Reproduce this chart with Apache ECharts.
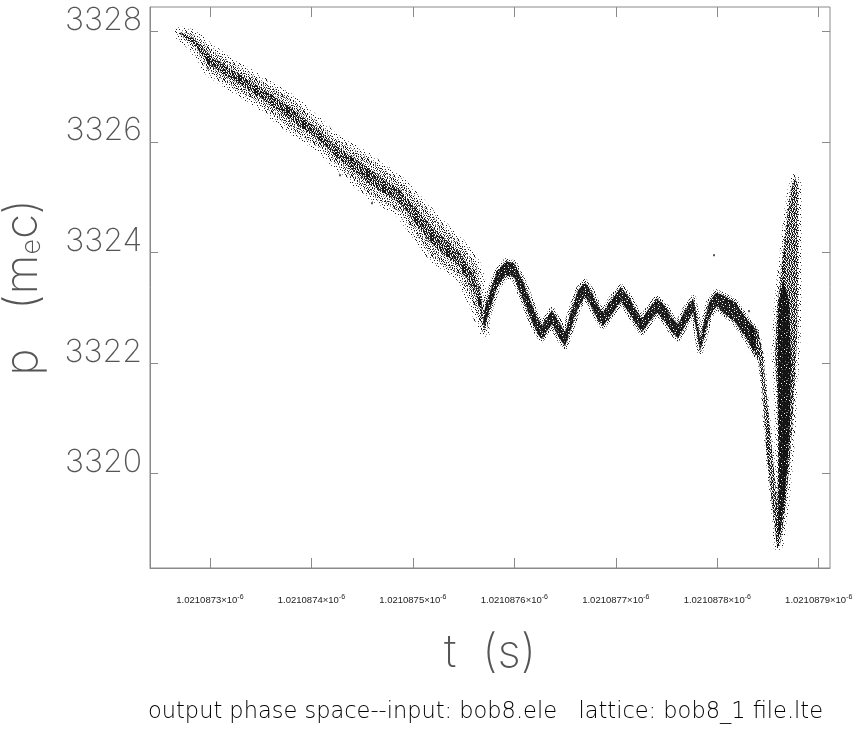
<!DOCTYPE html>
<html>
<head>
<meta charset="utf-8">
<script src="https://cdn.jsdelivr.net/npm/echarts@6/dist/echarts.min.js"></script>
<style>
  html, body { margin: 0; padding: 0; background: #fff; }
  #chart { width: 852px; height: 734px; }
</style>
</head>
<body>
<div id="chart"></div>
<script>
// Times are stored in units of 1e-13 s after 1.021087e-6 s (3 -> 1.0210873e-6 s).
const T_BASE = 10210870;
const tTicks = [3, 4, 5, 6, 7, 8, 9];
const pTicks = [3320, 3322, 3324, 3326, 3328];
const tRange = [2.409, 9.111];
const pRange = [3318.29, 3328.44];

// Head of the bunch: spread-out band, upper and lower edge of p.
const driftT      = [2.704, 2.832, 3.000, 3.168, 3.493, 3.818, 4.084, 4.212, 4.548, 4.873, 5.198, 5.464, 5.612, 5.661, 5.711];
const driftTop    = [3328.000, 3327.946, 3327.693, 3327.476, 3327.114, 3326.752, 3326.318, 3326.083, 3325.721, 3325.288, 3324.655, 3324.166, 3323.823, 3323.533, 3322.650];
const driftBottom = [3327.928, 3327.729, 3327.259, 3327.060, 3326.680, 3326.210, 3325.902, 3325.667, 3325.089, 3324.727, 3323.913, 3323.570, 3323.000, 3322.740, 3322.557];

// Middle of the bunch: narrow oscillating band, centre p and half thickness.
const rippleT    = [5.701, 5.760, 5.829, 5.918, 5.997, 6.075, 6.154, 6.223, 6.273, 6.322,
                    6.371, 6.430, 6.499, 6.558, 6.627, 6.696, 6.765, 6.825, 6.874, 6.962,
                    7.051, 7.140, 7.199, 7.258, 7.337, 7.406, 7.495, 7.554, 7.613, 7.682,
                    7.761, 7.800, 7.830, 7.869, 7.919, 7.988, 8.076, 8.175, 8.293, 8.382];
const rippleP    = [3322.774, 3323.136, 3323.515, 3323.714, 3323.678, 3323.353, 3322.991, 3322.684, 3322.557, 3322.702,
                    3322.828, 3322.629, 3322.430, 3322.774, 3323.154, 3323.335, 3323.136, 3322.901, 3322.792, 3323.027,
                    3323.244, 3323.027, 3322.828, 3322.684, 3322.883, 3323.045, 3322.864, 3322.684, 3322.575, 3322.810,
                    3323.045, 3322.684, 3322.322, 3322.593, 3322.955, 3323.154, 3323.045, 3322.919, 3322.611, 3322.358];
const rippleHalf = [0.163, 0.163, 0.145, 0.127, 0.127, 0.163, 0.163, 0.145, 0.127, 0.127,
                    0.127, 0.145, 0.127, 0.163, 0.163, 0.127, 0.145, 0.127, 0.127, 0.145,
                    0.127, 0.145, 0.127, 0.127, 0.127, 0.127, 0.145, 0.127, 0.127, 0.145,
                    0.127, 0.145, 0.108, 0.145, 0.145, 0.127, 0.163, 0.181, 0.181, 0.217];

// Tail of the bunch: the steep drop into the dip, outline as [t, p].
const dropOutline = [
  [8.323, 3322.738], [8.392, 3322.593], [8.431, 3322.358], [8.461, 3321.960], [8.490, 3321.327],
  [8.530, 3320.604], [8.559, 3320.062], [8.589, 3319.519], [8.609, 3318.977], [8.618, 3318.705],
  [8.589, 3318.669], [8.569, 3318.977], [8.540, 3319.429], [8.510, 3319.971], [8.480, 3320.514],
  [8.461, 3321.056], [8.441, 3321.599], [8.411, 3322.015], [8.362, 3322.195], [8.303, 3322.449]
];
// ...and the wide recovery branch after it.
const riseOutline = [
  [8.589, 3319.338], [8.599, 3320.062], [8.599, 3320.785], [8.589, 3321.508], [8.569, 3322.141],
  [8.589, 3322.955], [8.628, 3323.678], [8.658, 3324.130], [8.688, 3324.673], [8.727, 3325.125],
  [8.766, 3325.360], [8.796, 3325.215], [8.796, 3324.401], [8.796, 3323.316], [8.786, 3322.412],
  [8.757, 3321.508], [8.737, 3320.785], [8.707, 3320.062], [8.678, 3319.519], [8.648, 3319.067],
  [8.618, 3318.705], [8.589, 3318.669], [8.579, 3318.977]
];
// Densest part of the recovery branch.
const riseCore = [
  [8.609, 3323.136], [8.648, 3323.497], [8.707, 3323.136], [8.727, 3322.051], [8.717, 3320.966],
  [8.688, 3320.062], [8.648, 3319.338], [8.618, 3318.886], [8.599, 3318.977], [8.609, 3319.881],
  [8.609, 3320.785], [8.599, 3321.689], [8.599, 3322.593]
];

// A few isolated particles.
const strayT = [2.980, 7.968, 4.597, 4.281, 8.313];
const strayP = [3327.331, 3323.949, 3324.890, 3325.396, 3322.937];

// Stipple textures used to fill the particle clouds ('x' dark dot, 'o' grey dot).
function stipple(rows) {
  const h = rows.length, w = rows[0].length;
  const c = document.createElement('canvas');
  c.width = w; c.height = h;
  const g = c.getContext('2d');
  rows.forEach((row, y) => {
    for (let x = 0; x < w; x++) {
      const ch = row[x];
      if (ch === 'x') { g.fillStyle = 'rgba(15,15,15,0.95)'; g.fillRect(x, y, 1, 1); }
      else if (ch === 'o') { g.fillStyle = 'rgba(110,110,110,0.85)'; g.fillRect(x, y, 1, 1); }
    }
  });
  return { image: c, repeat: 'repeat' };
}
const SPARSE = stipple([
  'x.......o.......',
  '......x.........',
  '...........x....',
  '..o.............',
  '........x.....o.',
  'x...............',
  '.....o......x...',
  '..........x.....',
  '.x..............',
  '......x.......x.',
  '...o............',
  '............o...',
  '........x.......',
  '..x.............',
  '..........o...x.',
  '.....x..........'
]);
const LIGHT = stipple([
  'x....o....x.....',
  '...x.......o..x.',
  '.o.....x........',
  '.........x....o.',
  '..x..x..........',
  '.......o...x....',
  'x.............x.',
  '...o.x..x.......',
  '.........o..x...',
  '.x..x...........',
  '......x....x.o..',
  '..o.............',
  '........x.....x.',
  'x..x........o...',
  '......o..x......',
  '..........x....x'
]);
const MEDIUM = stipple([
  'x..o.x...x.o..x.',
  '.x....x.o...x...',
  '...x.o...x...o.x',
  'o.x....x...x....',
  '..x..x.o..x..x.o',
  '.o...x...x.o....',
  'x..x...o....x.x.',
  '...o.x..x.x...o.',
  '.x.....x...o.x..',
  'x..x.o...x....x.',
  '..o...x.x..x.o..',
  '.x..x....o..x..x',
  'o...x.x.....o.x.',
  '..x...o..x.x....',
  '.x.o.x....x..o.x',
  'x.....x.o...x...'
]);
const CORE = stipple([
  'xx.ox.xx.xo.xx.x',
  '.xx.xo.x.xx.x.ox',
  'x.oxx.xx.x.ox.x.',
  'xx.x.x.oxx.x.xx.',
  '.oxx.xx.x.xo.x.x',
  'x.x.ox.x.xx.x.ox',
  'xx.x.x.xo.x.xx.x',
  '.x.oxx.x.xx.o.x.',
  'x.xx.x.ox.x.xx.x',
  'xo.x.xx.x.ox.x.x',
  '.xx.o.x.xx.x.oxx',
  'x.x.xx.ox.x.x.x.',
  'xx.o.x.x.xx.ox.x',
  '.x.xx.oxx.x.x.xx',
  'x.ox.x.x.o.xx.x.',
  'xx.x.xx.x.x.o.xx'
]);
const DENSE = stipple([
  'xxxxx.xxxoxxxxxx',
  'xoxxxxxxx.xxxxox',
  'xxx.xxxxxxxxxxxx',
  'xxxxxxxox.xxxx.x',
  'xx.xxxxxxxxx.xxx',
  'xxxxoxxxxxxxxxox',
  '.xxxxxxxx.xxxxxx',
  'xxxxxx.xxxxxxx.x',
  'xxxxxxxxoxx.xxxx',
  'x.xxxxxxxxxxoxxx',
  'xxxx.xxxxxxxxxxx',
  'xxxxxxxx.xxx.xox',
  'xxo.xxxxxxxxxxxx',
  '.xxxxxxxxxxxxx.x',
  'xxxxxxxx.xoxxxxx',
  'xx.xxxxxxxxxx.xx'
]);

function bandPolygon(ts, tops, bottoms) {
  const pts = ts.map((t, i) => [t, tops[i]]);
  for (let i = ts.length - 1; i >= 0; i--) pts.push([ts[i], bottoms[i]]);
  return pts;
}
const driftShape = bandPolygon(driftT, driftTop, driftBottom);
// inner, denser part of the head: middle of the band
const driftCore = bandPolygon(
  driftT,
  driftTop.map((p, i) => p - (p - driftBottom[i]) * 0.28),
  driftBottom.map((p, i) => p + (driftTop[i] - p) * 0.28)
);
const rippleShape = bandPolygon(
  rippleT,
  rippleP.map((p, i) => p + rippleHalf[i]),
  rippleP.map((p, i) => p - rippleHalf[i])
);

// One filled cloud; a wide stroke with a lighter texture roughens its edge.
function cloudSeries(shape, fill, haloWidth, haloFill) {
  return {
    type: 'custom',
    silent: true,
    data: [0],
    renderItem: (params, api) => ({
      type: 'polygon',
      shape: { points: shape.map(d => api.coord(d)) },
      style: {
        fill: fill,
        stroke: haloWidth ? (haloFill || SPARSE) : null,
        lineWidth: haloWidth || 0,
        lineJoin: 'round'
      }
    })
  };
}

const thin = '"Inter", "Roboto", "DejaVu Sans", sans-serif';
const axisGrey = '#8a8a8a';

const chart = echarts.init(document.getElementById('chart'), null, { renderer: 'canvas' });
chart.setOption({
  animation: false,
  backgroundColor: '#fff',
  grid: {
    left: 150, right: 22, top: 7, bottom: 166,
    outerBoundsMode: 'none', containLabel: false,
    show: true, borderColor: axisGrey, borderWidth: 1
  },
  xAxis: [
    {
      type: 'value', min: tRange[0], max: tRange[1],
      name: 't  (s)', nameLocation: 'middle', nameGap: 62,
      nameTextStyle: { fontFamily: thin, fontWeight: 200, fontSize: 46, color: '#555' },
      axisLine: { show: true, onZero: false, lineStyle: { color: axisGrey } },
      axisTick: { show: true, inside: true, length: 10, customValues: tTicks, lineStyle: { color: axisGrey } },
      splitLine: { show: false },
      axisLabel: {
        customValues: tTicks, margin: 26,
        formatter: v => '{m|' + ((T_BASE + v) / 1e7).toFixed(7) + '×10}{e|-6}',
        rich: {
          m: { fontFamily: 'Liberation Sans, Arial, sans-serif', fontSize: 9.5, color: '#222' },
          e: { fontFamily: 'Liberation Sans, Arial, sans-serif', fontSize: 7, color: '#222', padding: [0, 0, 6, 0] }
        }
      }
    },
    {
      type: 'value', position: 'top', min: tRange[0], max: tRange[1],
      axisLine: { show: false },
      axisTick: { show: true, inside: true, length: 10, customValues: tTicks, lineStyle: { color: axisGrey } },
      axisLabel: { show: false }, splitLine: { show: false }
    }
  ],
  yAxis: [
    {
      type: 'value', min: pRange[0], max: pRange[1],
      name: 'p   (m{s|e}c)', nameLocation: 'middle', nameGap: 104, nameRotate: 90,
      nameTextStyle: {
        fontFamily: thin, fontWeight: 200, fontSize: 46, color: '#555',
        rich: { s: { fontFamily: thin, fontWeight: 200, fontSize: 27, color: '#555', padding: [17, 0, 0, 0] } }
      },
      axisLine: { show: true, onZero: false, lineStyle: { color: axisGrey } },
      axisTick: { show: true, inside: true, length: 8, customValues: pTicks, lineStyle: { color: axisGrey } },
      splitLine: { show: false },
      axisLabel: {
        customValues: pTicks, margin: 8, verticalAlign: 'bottom',
        fontFamily: thin, fontWeight: 200, fontSize: 32, color: '#555', lineHeight: 22,
        formatter: v => String(Math.round(v))
      }
    },
    {
      type: 'value', position: 'right', min: pRange[0], max: pRange[1],
      axisLine: { show: false },
      axisTick: { show: true, inside: true, length: 8, customValues: pTicks, lineStyle: { color: axisGrey } },
      axisLabel: { show: false }, splitLine: { show: false }
    }
  ],
  graphic: [{
    type: 'text', left: 148, top: 701,
    style: {
      text: 'output phase space--input: bob8.ele   lattice: bob8_1 file.lte',
      fontFamily: '"DejaVu Sans", sans-serif', fontWeight: 200, fontSize: 22.5, fill: '#000'
    }
  }],
  series: [
    cloudSeries(driftShape, MEDIUM, 10, LIGHT),
    cloudSeries(driftCore, CORE, 0),
    cloudSeries(rippleShape, DENSE, 6, MEDIUM),
    cloudSeries(dropOutline, CORE, 3, LIGHT),
    cloudSeries(riseOutline, CORE, 7, LIGHT),
    cloudSeries(riseCore, DENSE, 0),
    {
      type: 'scatter', silent: true, symbol: 'rect', symbolSize: 2,
      itemStyle: { color: '#222' },
      data: strayT.map((t, i) => [t, strayP[i]])
    }
  ]
});
</script>
</body>
</html>
